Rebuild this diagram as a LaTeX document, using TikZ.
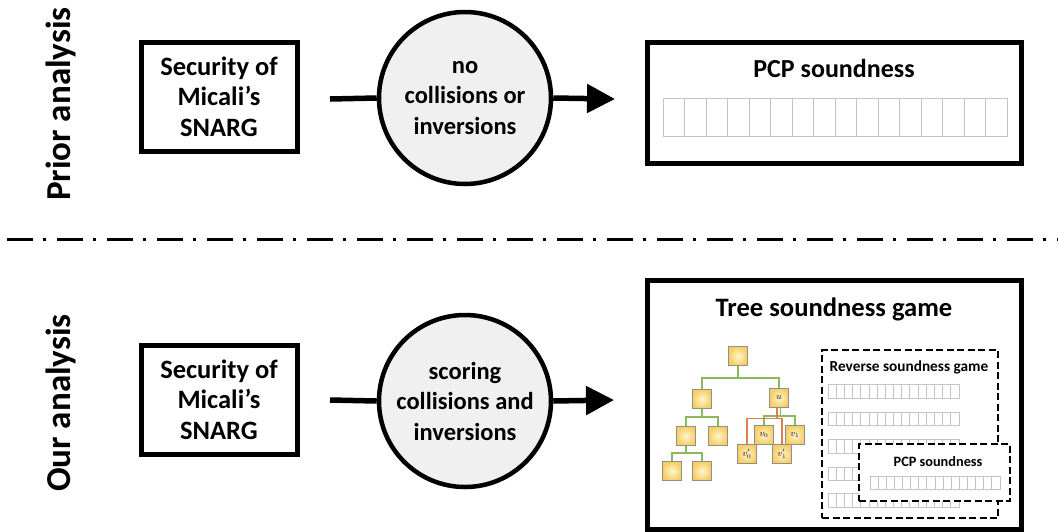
\documentclass[tikz,border=0pt]{standalone}
\usepackage{fontspec}
\setmainfont{Carlito}
\usetikzlibrary{arrows.meta,calc}
\definecolor{treegreen}{HTML}{8CB860}
\definecolor{treeorange}{HTML}{DD7E4B}
\definecolor{nodeedge}{HTML}{8F8F8F}
\definecolor{cellgray}{HTML}{C4C4C4}
\definecolor{circfill}{HTML}{F0F0F0}
\definecolor{nodein}{HTML}{FFF5D2}
\definecolor{nodeout}{HTML}{F6CF63}
\newcommand\cellrow[4]{%
  \draw[cellgray, line width=0.8pt] (#1,#2) rectangle (#3,#4);
  \foreach \i in {1,...,15}{\draw[cellgray, line width=0.8pt] ({#1+\i*(#3-#1)/16},#2) -- ({#1+\i*(#3-#1)/16},#4);}%
}
\begin{document}
\begin{tikzpicture}[x=1pt,y=-1pt,
  textbox/.style={draw=black, line width=5pt, fill=white, minimum width=156pt, minimum height=109pt,
    align=center, inner sep=0pt, font=\fontsize{26.5}{30.5}\selectfont\bfseries},
  circ/.style={circle, draw=black, line width=4.5pt, fill=circfill, minimum size=172pt, inner sep=0pt,
    align=center, font=\fontsize{24.5}{30.5}\selectfont\bfseries},
  bigbox/.style={draw=black, line width=5pt, fill=white, minimum width=374pt, inner sep=0pt},
  dashbox/.style={draw=black, line width=2.6pt, dash pattern=on 7pt off 3.5pt, fill=white, inner sep=0pt},
  conn/.style={line width=5.5pt},
  arr/.style={conn, -{Triangle[length=28pt,width=28pt]}},
  sidelabel/.style={rotate=90, font=\fontsize{35}{35}\selectfont\bfseries},
  tnode/.style={draw=nodeedge, line width=1.2pt, minimum size=19pt, inner sep=0pt,
    inner color=nodein, outer color=nodeout, font=\fontsize{9}{9}\selectfont},
  gedge/.style={treegreen, line width=1.3pt},
  oedge/.style={treeorange, line width=1.3pt},
]
\useasboundingbox (0,0) rectangle (1058,531);

% side labels and separator
\node[sidelabel] (lprior) at (61,104) {Prior analysis};
\node[sidelabel] (lour) at (61,403) {Our analysis};
\coordinate (sepL) at (7,239);
\coordinate (sepR) at (1058,239);
\draw[line width=3pt, dash pattern=on 26pt off 10pt on 3pt off 11pt] (sepL) -- (sepR);

% ---------- Prior analysis ----------
\node[textbox] (secA) at (219,96.5) {Security of\\Micali’s\\SNARG};
\node[circ] (circA) at (465,98) {no\\collisions or\\inversions};
\coordinate (startA) at (330,99);
\coordinate (tipA) at (615,99);
\draw[conn] (startA) -- (circA.west);
\draw[arr] (circA.east) -- (tipA);

\node[bigbox, minimum height=121pt] (pcpA) at (834,102.5) {};
\node[font=\fontsize{26}{26}\selectfont\bfseries] (pcpAt) at (834,68) {PCP soundness};
\cellrow{663}{98}{1007}{136}

% ---------- Our analysis ----------
\node[textbox] (secB) at (219,399.5) {Security of\\Micali’s\\SNARG};
\node[circ] (circB) at (465,401) {scoring\\collisions and\\inversions};
\coordinate (startB) at (330,400);
\coordinate (tipB) at (614,400);
\draw[conn] (startB) -- (circB.west);
\draw[arr] (circB.east) -- (tipB);

\node[bigbox, minimum height=249pt] (treeB) at (834,404.5) {};
\node[font=\fontsize{26.6}{26.6}\selectfont\bfseries] (treeBt) at (834,309) {Tree soundness game};

% tree
\node[tnode] (r) at (738,356) {};
\node[tnode] (l) at (702,399) {};
\node[tnode] (u) at (779,398) {$u$};
\node[tnode] (ll) at (686,436) {};
\node[tnode] (lr) at (718,436) {};
\node[tnode] (lll) at (672,471) {};
\node[tnode] (llr) at (702,471) {};
\node[tnode] (v0) at (764,435) {$v_0$};
\node[tnode] (v1) at (795,435) {$v_1$};
\node[tnode] (v0p) at (747,454) {$v'_0$};
\node[tnode] (v1p) at (782,454) {$v'_1$};
\draw[gedge] (r.south) -- (r.south |- 0,378) -| (l.north);
\draw[gedge] (r.south |- 0,378) -| (u.north);
\draw[gedge] (l.south) -- (l.south |- 0,417) -| (ll.north);
\draw[gedge] (l.south |- 0,417) -| (lr.north);
\draw[gedge] (ll.south) -- (ll.south |- 0,453) -| (lll.north);
\draw[gedge] (ll.south |- 0,453) -| (llr.north);
\draw[gedge] ([xshift=1.5pt]u.south) -- ([xshift=1.5pt]u.south |- 0,416) -| (v0.north);
\draw[gedge] ([xshift=1.5pt]u.south |- 0,416) -| (v1.north);
\draw[oedge] ([xshift=-2pt]u.south) -- ([xshift=-2pt]u.south |- 0,418.5) -| (v0p.north);
\draw[oedge] ([xshift=-2pt]u.south |- 0,418.5) -| (v1p.north);

% reverse soundness game
\node[dashbox, minimum width=176pt, minimum height=168pt] (rev) at (910,434) {};
\node[font=\fontsize{15.3}{15.3}\selectfont\bfseries] (revt) at (909,367) {Reverse soundness game};
\cellrow{828}{384}{959}{398}
\cellrow{828}{412}{959}{425}
\cellrow{828}{439}{959}{453}
\cellrow{828}{467}{959}{480}
\cellrow{828}{493}{959}{507}

% inner PCP soundness
\node[dashbox, minimum width=151pt, minimum height=57pt] (pcpB) at (934.5,472.5) {};
\node[font=\fontsize{14.3}{14.3}\selectfont\bfseries] (pcpBt) at (938,462) {PCP soundness};
\cellrow{870}{476}{1000}{489}
\end{tikzpicture}
\end{document}
